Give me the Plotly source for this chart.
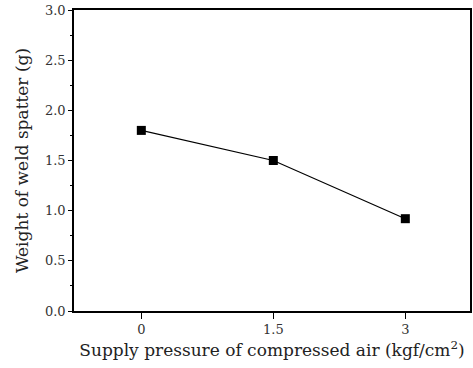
import plotly.graph_objects as go

pressure = [0, 1.5, 3]
spatter = [1.8, 1.5, 0.92]
x_ticks = [0, 1.5, 3]
x_tick_labels = ["0", "1.5", "3"]
y_ticks = [0.0, 0.5, 1.0, 1.5, 2.0, 2.5, 3.0]
y_tick_labels = ["0.0", "0.5", "1.0", "1.5", "2.0", "2.5", "3.0"]

FONT = "DejaVu Serif"

fig = go.Figure()
fig.add_trace(go.Scatter(
    x=pressure, y=spatter, mode="lines+markers",
    line=dict(color="black", width=1.2),
    marker=dict(symbol="square", size=9, color="black"),
    showlegend=False,
))

fig.update_layout(
    width=473, height=368,
    margin=dict(l=74, r=1, t=10, b=57),
    paper_bgcolor="white", plot_bgcolor="white",
    font=dict(family=FONT, size=13, color="#333"),
)
fig.update_xaxes(
    range=[-0.765, 3.735],
    tickvals=x_ticks, ticktext=x_tick_labels,
    ticks="outside", ticklen=6, tickwidth=1.2, tickcolor="black",
    showline=True, linecolor="black", linewidth=1.6, mirror=True,
    showgrid=False, zeroline=False,
    tickfont=dict(family=FONT, size=13, color="#333"),
    title=dict(text="Supply pressure of compressed air (kgf/cm<sup>2</sup>)",
               font=dict(family=FONT, size=17, color="#222"), standoff=8),
)
fig.update_yaxes(
    range=[0, 3.0],
    tickvals=y_ticks, ticktext=y_tick_labels,
    ticks="outside", ticklen=4, tickwidth=1, tickcolor="black",
    minor=dict(dtick=0.25, tick0=0, ticks="outside", ticklen=2, tickcolor="black", tickwidth=1),
    showline=True, linecolor="black", linewidth=1.6, mirror=True,
    showgrid=False, zeroline=False,
    tickfont=dict(family=FONT, size=13, color="#333"),
    title=dict(text="Weight of weld spatter (g)",
               font=dict(family=FONT, size=17, color="#222"), standoff=12),
)

fig.write_html("out.html")
